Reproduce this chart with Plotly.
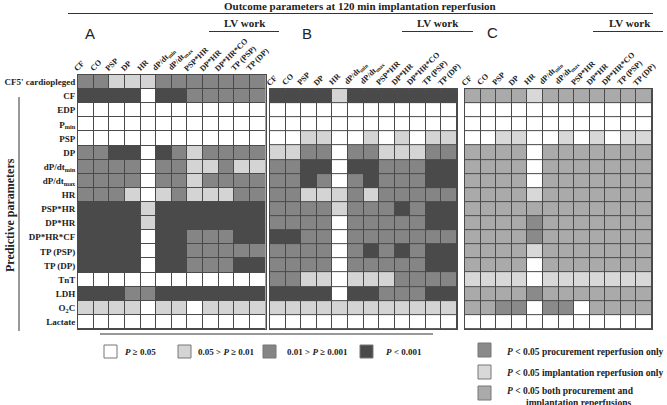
import plotly.graph_objects as go

# ---------------- data ----------------
col_labels = ["CF", "CO", "PSP", "DP", "HR", "dP/dt<sub>min</sub>", "dP/dt<sub>max</sub>",
              "PSP*HR", "DP*HR", "DP*HR*CO", "TP (PSP)", "TP (DP)"]
row_labels_a = ["CF5' cardiopleged", "CF", "EDP", "P<sub>min</sub>", "PSP", "DP",
                "dP/dt<sub>min</sub>", "dP/dt<sub>max</sub>", "HR", "PSP*HR", "DP*HR",
                "DP*HR*CF", "TP (PSP)", "TP (DP)", "TnT", "LDH", "O<sub>2</sub>C", "Lactate"]
row_labels_bc = row_labels_a[1:]

# significance level: 0 P>=0.05, 1 0.05>P>=0.01, 2 0.01>P>=0.001, 3 P<0.001
panel_a = [
    [2, 2, 1, 1, 1, 2, 2, 2, 2, 2, 2, 2],
    [3, 3, 3, 3, 0, 3, 3, 2, 2, 2, 2, 2],
    [0, 0, 0, 0, 0, 0, 0, 0, 0, 0, 0, 0],
    [0, 0, 0, 0, 0, 0, 0, 0, 0, 0, 0, 0],
    [0, 0, 0, 0, 0, 0, 0, 0, 0, 0, 0, 0],
    [2, 2, 3, 3, 0, 3, 2, 1, 2, 2, 2, 2],
    [2, 2, 2, 2, 0, 2, 2, 1, 1, 2, 1, 1],
    [2, 2, 2, 2, 0, 2, 2, 1, 2, 2, 2, 2],
    [2, 2, 2, 1, 0, 1, 2, 1, 1, 1, 2, 2],
    [3, 3, 3, 3, 1, 3, 3, 3, 3, 3, 3, 3],
    [3, 3, 3, 3, 1, 3, 3, 3, 3, 3, 3, 3],
    [3, 3, 3, 3, 0, 3, 3, 2, 2, 2, 3, 3],
    [3, 3, 3, 3, 0, 3, 3, 2, 2, 2, 2, 2],
    [3, 3, 3, 3, 0, 3, 3, 2, 2, 2, 3, 3],
    [0, 0, 0, 0, 0, 0, 0, 0, 0, 0, 0, 0],
    [3, 3, 3, 2, 2, 3, 3, 3, 3, 3, 3, 3],
    [1, 1, 1, 1, 0, 1, 1, 0, 1, 1, 1, 1],
    [0, 0, 0, 0, 0, 0, 0, 0, 0, 0, 0, 0],
]
panel_b = [
    [3, 3, 3, 3, 1, 3, 3, 3, 3, 3, 3, 3],
    [0, 0, 0, 0, 0, 0, 0, 0, 0, 0, 0, 0],
    [0, 0, 0, 0, 0, 0, 0, 0, 0, 0, 0, 0],
    [0, 0, 1, 1, 0, 0, 1, 0, 1, 0, 1, 1],
    [1, 1, 2, 2, 0, 2, 2, 1, 1, 1, 2, 2],
    [2, 2, 3, 3, 0, 3, 3, 2, 2, 2, 3, 3],
    [2, 2, 3, 2, 0, 2, 3, 2, 2, 2, 3, 3],
    [2, 2, 1, 1, 1, 2, 1, 2, 2, 2, 2, 2],
    [2, 2, 2, 2, 1, 2, 2, 2, 3, 2, 3, 3],
    [2, 2, 2, 2, 0, 2, 2, 2, 2, 2, 3, 3],
    [3, 3, 2, 2, 0, 2, 2, 2, 2, 2, 2, 2],
    [2, 2, 2, 2, 0, 2, 3, 2, 3, 2, 3, 3],
    [2, 2, 2, 2, 0, 2, 2, 2, 2, 2, 3, 3],
    [2, 2, 1, 1, 0, 1, 1, 1, 2, 2, 2, 2],
    [3, 3, 3, 3, 0, 3, 3, 2, 2, 2, 3, 3],
    [1, 1, 1, 1, 1, 1, 1, 1, 1, 1, 1, 1],
    [0, 0, 0, 0, 0, 0, 0, 0, 0, 0, 0, 0],
]
# 0 none, 1 implantation only, 2 both, 3 procurement only
panel_c = [
    [2, 2, 2, 2, 1, 2, 2, 2, 2, 2, 2, 2],
    [0, 0, 0, 0, 0, 0, 0, 0, 0, 0, 0, 0],
    [0, 0, 0, 0, 0, 0, 0, 0, 0, 0, 0, 0],
    [0, 0, 1, 1, 0, 0, 1, 0, 1, 0, 1, 1],
    [2, 2, 2, 2, 0, 2, 2, 2, 2, 2, 2, 2],
    [2, 2, 2, 2, 0, 2, 2, 2, 2, 2, 2, 2],
    [2, 2, 2, 2, 0, 2, 2, 2, 2, 2, 2, 2],
    [2, 2, 2, 2, 1, 2, 2, 2, 2, 2, 2, 2],
    [2, 2, 2, 2, 2, 2, 2, 2, 2, 2, 2, 2],
    [2, 2, 2, 2, 3, 2, 2, 2, 2, 2, 2, 2],
    [2, 2, 2, 2, 3, 2, 2, 2, 2, 2, 2, 2],
    [2, 2, 2, 2, 1, 2, 2, 2, 2, 2, 2, 2],
    [2, 2, 2, 2, 0, 2, 2, 2, 2, 2, 2, 2],
    [1, 1, 1, 1, 0, 1, 1, 1, 1, 1, 1, 1],
    [2, 2, 2, 2, 3, 2, 2, 2, 2, 2, 2, 2],
    [2, 2, 3, 3, 0, 3, 3, 0, 2, 2, 2, 2],
    [0, 0, 0, 0, 0, 0, 0, 0, 0, 0, 0, 0],
]

legend_p_labels = ["<i>P</i> ≥ 0.05", "0.05 > <i>P</i> ≥ 0.01", "0.01 > <i>P</i> ≥ 0.001", "<i>P</i> < 0.001"]
legend_c_labels = ["<i>P</i> < 0.05 procurement reperfusion only",
                   "<i>P</i> < 0.05 implantation reperfusion only",
                   "<i>P</i> < 0.05 both procurement and<br>implantation reperfusions"]

# ---------------- styles ----------------
W, H = 667, 405
SERIF = "Liberation Serif, Times New Roman, serif"
SANS = "Liberation Sans, Arial, sans-serif"
P_COLORS = ["#ffffff", "#d4d4d4", "#858585", "#4a4a4a"]
C_COLORS = ["#ffffff", "#d8d8d8", "#aaaaaa", "#8a8a8a"]
GRID = "#4a4a4a"

def px(x):
    return x / W

def py(y):
    return 1 - y / H

def cscale(cols):
    n = len(cols) - 1
    return [[i / n, c] for i, c in enumerate(cols)]

top_px, bot_px = 75, 329
row_h = (bot_px - top_px) / 18
panels = [
    dict(z=panel_a, rows=row_labels_a, x0=78, x1=265.5, top=top_px, cols=P_COLORS),
    dict(z=panel_b, rows=row_labels_bc, x0=270, x1=457, top=top_px + row_h, cols=P_COLORS),
    dict(z=panel_c, rows=row_labels_bc, x0=465, x1=652, top=top_px + row_h, cols=C_COLORS),
]

shapes = []
annotations = []

fig = go.Figure()
for i, p in enumerate(panels):
    sfx = "" if i == 0 else str(i + 1)
    nrows = len(p["rows"])
    fig.add_trace(go.Heatmap(
        z=p["z"], x=list(range(12)), y=list(range(nrows)),
        zmin=0, zmax=3, colorscale=cscale(p["cols"]), showscale=False,
        xgap=1, ygap=1, hoverinfo="skip",
        xaxis="x" + sfx, yaxis="y" + sfx,
    ))
    fig.layout["xaxis" + sfx] = dict(
        domain=[px(p["x0"]), px(p["x1"])], range=[-0.5, 11.5], side="top",
        anchor="y" + sfx, showticklabels=False, ticks="", showgrid=False,
        zeroline=False, showline=True, linecolor=GRID, linewidth=1, mirror=True,
        fixedrange=True, automargin=False,
    )
    fig.layout["yaxis" + sfx] = dict(
        domain=[py(bot_px), py(p["top"])], range=[nrows - 0.5, -0.5],
        anchor="x" + sfx, tickmode="array", tickvals=list(range(nrows)),
        ticktext=["<b>%s</b>" % t for t in p["rows"]], showticklabels=(i == 0),
        tickfont=dict(family=SERIF, size=9, color="#222"), ticks="", showgrid=False,
        zeroline=False, showline=True, linecolor=GRID, linewidth=1, mirror=True,
        fixedrange=True, automargin=False,
    )
    # rotated column headers, anchored on the panel's own x axis
    for j, lab in enumerate(col_labels):
        annotations.append(dict(
            xref="x" + sfx, yref="paper", x=j, y=py(p["top"]), xshift=-13, yshift=2,
            text="<b>%s</b>" % lab, textangle=-45, showarrow=False,
            xanchor="left", yanchor="bottom", borderpad=0, borderwidth=0,
            font=dict(family=SERIF, size=8, color="#222"),
        ))


def line(x0, y0, x1, y1, w=1.2, c="#333"):
    shapes.append(dict(type="line", xref="paper", yref="paper", x0=px(x0), y0=py(y0),
                       x1=px(x1), y1=py(y1), line=dict(color=c, width=w)))

def text(x, y, t, size=9, fam=SERIF, xanchor="center", yanchor="middle", angle=0, align="center"):
    annotations.append(dict(xref="paper", yref="paper", x=px(x), y=py(y), text=t,
                            showarrow=False, xanchor=xanchor, yanchor=yanchor, textangle=angle,
                            font=dict(family=fam, size=size, color="#222"), align=align))

# title + rule
text(360, 6, "<b>Outcome parameters at 120 min implantation reperfusion</b>", size=11)
line(68, 13.5, 653, 13.5)
# panel letters
text(90, 33, "A", size=15, fam=SANS)
text(307, 33, "B", size=15, fam=SANS)
text(492, 32, "C", size=15, fam=SANS)
# LV work
for cx, l0, l1 in [(245, 209, 279), (438, 402, 473), (630, 593, 663)]:
    text(cx, 23, "<b>LV work</b>", size=11)
    line(l0, 31.5, l1, 31.5)
# predictive parameters
text(10, 215, "<b>Predictive parameters</b>", size=12, angle=-90)
line(19, 97, 19, 331, w=1)
# bottom rule
line(100, 334, 433, 334, w=1)

# left legend
for (bx, tx), col, lab in zip([(104, 123), (178, 196), (263, 285), (360, 384)], P_COLORS, legend_p_labels):
    shapes.append(dict(type="rect", xref="paper", yref="paper", x0=px(bx), x1=px(bx + 13),
                       y0=py(358), y1=py(345), fillcolor=col, line=dict(color="#777", width=1)))
    text(tx, 351.5, "<b>%s</b>" % lab, size=9, xanchor="left")

# right legend
for (by, ty), col, lab in zip([(343, 352), (365, 373), (386, 397)], [C_COLORS[3], C_COLORS[1], C_COLORS[2]], legend_c_labels):
    shapes.append(dict(type="rect", xref="paper", yref="paper", x0=px(478), x1=px(491),
                       y0=py(by + 14), y1=py(by), fillcolor=col, line=dict(color="#777", width=1)))
    text(505, ty, "<b>%s</b>" % lab.replace("<br>", "<br>        "), size=9.5, xanchor="left", align="left")

fig.update_layout(
    width=W, height=H, margin=dict(l=0, r=0, t=0, b=0),
    paper_bgcolor="white", plot_bgcolor=GRID, template="none",
    shapes=shapes, annotations=annotations, showlegend=False,
)

fig.write_html("out.html", config={"displayModeBar": False})
